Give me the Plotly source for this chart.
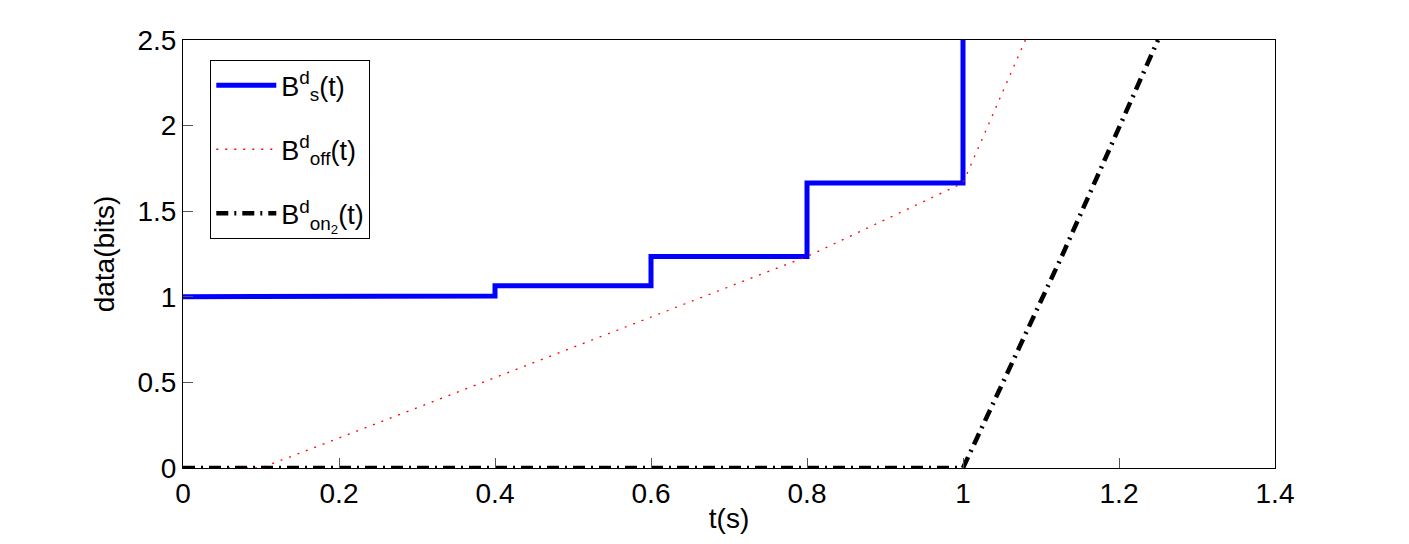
import plotly.graph_objects as go

# Data
t_s = [0, 0.2, 0.2, 0.4, 0.4, 0.6, 0.6, 0.8, 0.8, 1.0, 1.0]
b_s = [1.0, 1.0, 1.005, 1.005, 1.065, 1.065, 1.235, 1.235, 1.665, 1.665, 3.0]

t_off = [0, 0.1, 0.2, 0.4, 0.6, 0.8, 1.0, 1.08, 1.1]
b_off = [0, 0, 0.175, 0.527, 0.88, 1.235, 1.665, 2.5, 2.71]

t_on = [0, 1.0, 1.128, 1.25]
b_on = [0, 0, 1.25, 2.5]

x_ticks = [0, 0.2, 0.4, 0.6, 0.8, 1, 1.2, 1.4]
x_labels = ["0", "0.2", "0.4", "0.6", "0.8", "1", "1.2", "1.4"]
y_ticks = [0, 0.5, 1, 1.5, 2, 2.5]
y_labels = ["0", "0.5", "1", "1.5", "2", "2.5"]

FONT = "Liberation Sans, Arial, Helvetica, sans-serif"
FS = 28

fig = go.Figure()
fig.add_trace(go.Scatter(x=t_s, y=b_s, mode="lines", legendgroup="s",
                         name="B<sup>d</sup><sub>s</sub>(t)",
                         line=dict(color="#0000ff", width=5)))
fig.add_trace(go.Scatter(x=t_off, y=b_off, mode="lines", legendgroup="off",
                         name="B<sup>d</sup><sub>off</sub>(t)",
                         line=dict(color="#ff0000", width=1.3, dash="2px,7px")))
fig.add_trace(go.Scatter(x=t_on, y=b_on, mode="lines", legendgroup="on",
                         name="B<sup>d</sup><sub>on<sub>2</sub></sub>(t)",
                         line=dict(color="#000000", width=4.5, dash="12px,6px,2px,6px")))

axis_common = dict(
    showline=True, linecolor="black", linewidth=1, mirror=True,
    ticks="inside", ticklen=10, tickcolor="#555555", tickwidth=1,
    showgrid=False, zeroline=False,
    tickfont=dict(family=FONT, size=FS, color="black"),
)

fig.update_layout(
    width=1409, height=544,
    margin=dict(l=183, r=134, t=40, b=76),
    paper_bgcolor="white", plot_bgcolor="white",
    font=dict(family=FONT, color="black"),
    showlegend=True,
    legend=dict(x=0.025, y=0.953, xanchor="left", yanchor="top",
                bgcolor="white", bordercolor="black", borderwidth=1,
                font=dict(family=FONT, size=27, color="black"),
                itemwidth=60, tracegroupgap=26, entrywidth=160,
                entrywidthmode="pixels"),
    xaxis=dict(range=[0, 1.4], tickvals=x_ticks, ticktext=x_labels,
               title=dict(text="t(s)", font=dict(family=FONT, size=FS), standoff=0),
               **axis_common),
    yaxis=dict(range=[0, 2.5], tickvals=y_ticks, ticktext=y_labels,
               title=dict(text="data(bits)", font=dict(family=FONT, size=FS), standoff=14),
               **axis_common),
)

fig.write_html("out.html")
